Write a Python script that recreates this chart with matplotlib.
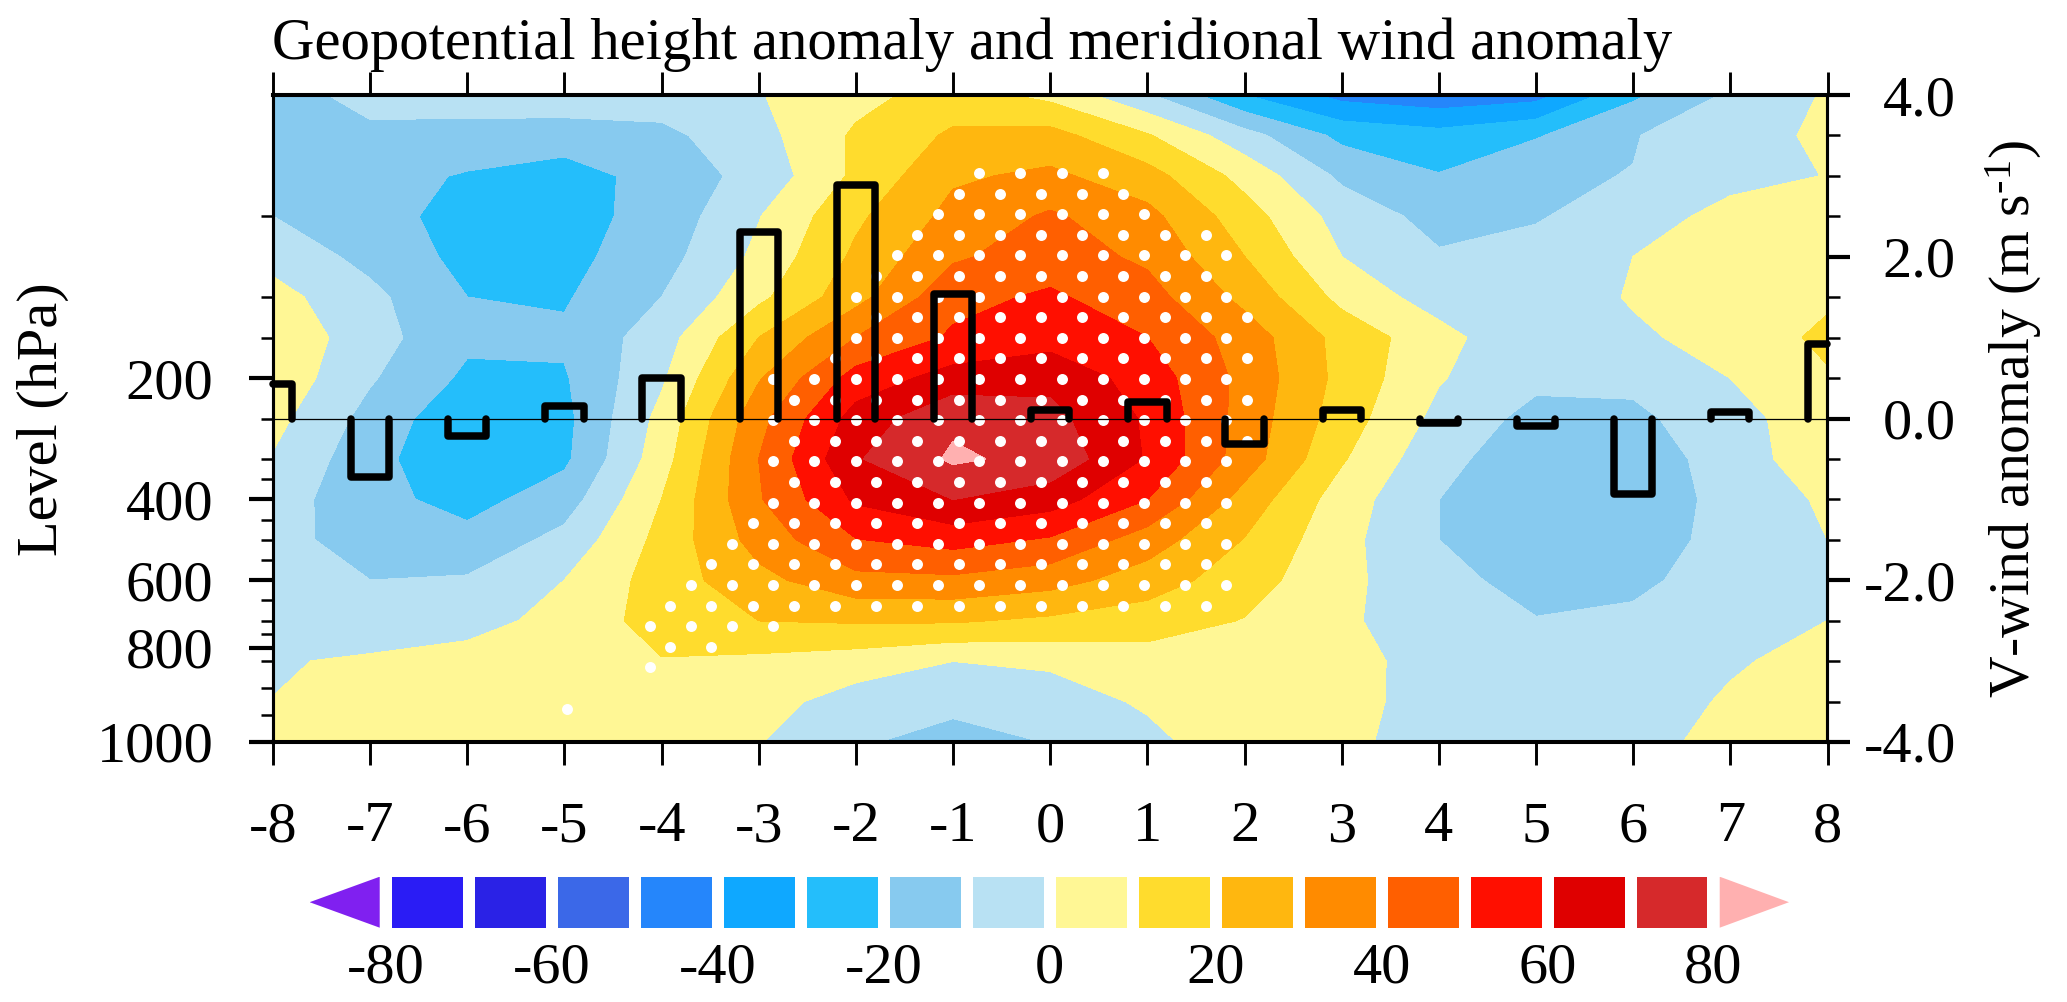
import numpy as np
import matplotlib
matplotlib.use("Agg")
import matplotlib.pyplot as plt
from matplotlib.colors import ListedColormap, BoundaryNorm

plt.rcParams['font.family'] = ['Liberation Serif', 'DejaVu Serif']
plt.rcParams['mathtext.fontset'] = 'custom'
plt.rcParams['mathtext.rm'] = 'Liberation Serif'
plt.rcParams['mathtext.default'] = 'regular'
plt.rcParams['axes.unicode_minus'] = False

# ---------- data ----------
lags = list(range(-8, 9))
plev = [1000, 925, 850, 700, 600, 500, 400, 300, 250, 200, 150, 100, 70, 50, 30, 20, 10]

z_10   = [-14, -7, -6, -5, -5, -0.5, 6.7, 14.5, 7, -9, -30, -43.5, -47.2, -44, -22, -8.5, 1]
z_20   = [-14, -12, -13, -14, -12.5, -3.6, 11.5, 21.5, 23.4, 10.8, -6.3, -22.7, -26.5, -21, -10.5, -4.4, 2]
z_30   = [-13, -16, -21, -25.5, -15.3, -7, 12, 28.5, 32, 23.8, 6.5, -12, -19.5, -11, -9.8, -2.5, 0.2]
z_50   = [-10, -16, -24, -23.7, -16.5, -0.5, 18, 33, 41.4, 33, 14.4, -4, -13.5, -11, -3.75, 2.5, 3]
z_70   = [-3.5, -13, -23, -23, -14, 2.3, 22, 38.5, 45, 38, 20, 0, -9, -6, 0, 4, 5]
z_100  = [3.5, -7.5, -20, -21, -10, 7.5, 26.5, 47, 51.5, 44, 27, 7, -4.7, -7.3, 1, 5.5, 8.5]
z_150  = [8, -6, -18, -18.4, -4.7, 20, 40, 51.4, 56, 50, 35.5, 16.5, 3.5, -8.8, -2, 4.3, 12]
z_200  = [7, -9, -22, -21, -1.6, 29, 54, 64, 67, 55.5, 37, 17, 0.7, -7.6, -7, 0, 9]
z_250  = [3, -13.5, -28, -22.8, 3, 36.7, 64, 78, 73, 58.5, 36, 15, -3, -13.3, -12.8, -2.5, 4]
z_300  = [-0.8, -16.5, -29, -22, 5.5, 40, 69, 81.5, 77, 59, 35, 11, -7.3, -15.7, -16.7, -4.9, 6]
z_400  = [-5, -17, -23.5, -15, 10, 39, 61.5, 70, 64.5, 50, 26, 5, -10, -17, -18, -6, 1.4]
z_500  = [-7, -14, -17, -7, 13, 34, 49.5, 53.7, 48.75, 35, 19.5, 3, -10, -17, -16, -6, 0]
z_600  = [-7, -10, -9, 0, 14.5, 27, 37, 37.7, 33.8, 25, 14.5, 2.5, -7, -13.6, -12.4, -5, -2.5]
z_700  = [-5.5, -5, -4, 3.5, 14, 20, 21, 21, 18, 14.8, 9.5, 1.5, -5.4, -9.6, -7.9, -3.5, 0]
z_850  = [-0.7, 1.1, 4, 7, 9.5, 7.6, 5, 0, 2, 5.5, 5, 2.5, -3, -7, -6, -1.4, 4]
z_925  = [0.1, 4, 6.5, 7, 7.5, 3.8, -4.5, -6.5, -6, 1.7, 4.5, 2, -2.5, -5, -6, 1.4, 5]
z_1000 = [5, 5.5, 8, 7, 7, 0.4, -8.5, -15, -9.6, -3.5, 8, 1.5, -3, -5, -3, 2.8, 5]

v_wind = [0.43, -0.72, -0.22, 0.15, 0.5, 2.31, 2.89, 1.54, 0.1, 0.21, -0.32, 0.1, -0.06, -0.09, -0.93, 0.08, 0.92]

levels = list(range(-80, 90, 10))
colors = ['#8020F0', '#2A1CF5', '#2A22E6', '#3B68E8', '#2586FB', '#0FA8FF', '#24BEFB', '#87CAEF', '#B8E1F3',
          '#FFF795', '#FFDC2D', '#FFB70F', '#FF8B00', '#FF5F00', '#FF0F00', '#DF0000', '#D6292B', '#FFB0B0']
cb_labels = ['-80', '-60', '-40', '-20', '0', '20', '40', '60', '80']
cb_ticks = [-80, -60, -40, -20, 0, 20, 40, 60, 80]

x_labels = ['-8', '-7', '-6', '-5', '-4', '-3', '-2', '-1', '0', '1', '2', '3', '4', '5', '6', '7', '8']
p_major = [200, 400, 600, 800, 1000]
p_minor = [50, 100, 150, 250, 300, 350, 450, 500, 550, 650, 700, 750, 850, 900, 950]
v_major = [-4, -2, 0, 2, 4]
v_major_labels = ['-4.0', '-2.0', '0.0', '2.0', '4.0']
v_minor = [-3.5, -3, -2.5, -1.5, -1, -0.5, 0.5, 1, 1.5, 2.5, 3, 3.5]

# stippling: staggered sampling grid, first/last column index per row
stip_start = [0, -1, -2, -3, -4, -5, -6, -5, -6, -7, -10, -9, -10, -9, -10, -9, -10, -11, -12, -13, -14, -15, -16, -15, -16, 1, -20]
stip_end   = [6, 7, 8, 11, 12, 11, 12, 13, 12, 13, 12, 13, 12, 13, 12, 11, 12, 11, 12, 11, 12, 11, -10, -13, -16, 0, -20]
stip_lag0, stip_dlag = -0.731, 0.212
stip_v0, stip_dv = 3.036, 0.2547

# ---------- figure ----------
W, H = 2067, 1002
fig = plt.figure(figsize=(W / 100, H / 100), dpi=100)
L, R, T, B = 273, 1827.5, 95, 742
ax = fig.add_axes([L / W, 1 - B / H, (R - L) / W, (B - T) / H])

Z = np.array([z_1000, z_925, z_850, z_700, z_600, z_500, z_400, z_300, z_250, z_200,
              z_150, z_100, z_70, z_50, z_30, z_20, z_10])
idx = np.arange(len(plev))
def p2i(p):
    return np.interp(p, plev[::-1], idx[::-1])

cmap = ListedColormap(colors[1:-1])
cmap.set_under(colors[0]); cmap.set_over(colors[-1])
cs = ax.contourf(lags, idx, Z, levels=levels, cmap=cmap, norm=BoundaryNorm(levels, 16), extend='both')
cs.set_edgecolor('face'); cs.set_linewidth(0.4)
ax.set_xlim(-8, 8); ax.set_ylim(0, 16)

fs = 42
ax.set_xticks(lags, x_labels, fontsize=fs)
ax.tick_params(axis='x', which='major', direction='out', length=16.5, width=2.1, top=True, pad=26)
ax.set_yticks(p2i(p_major), [str(p) for p in p_major], fontsize=fs)
ax.set_yticks(p2i(p_minor), minor=True)
ax.tick_params(axis='y', which='major', direction='out', length=17, width=3, pad=26)
ax.tick_params(axis='y', which='minor', direction='out', length=9, width=1.8)

ax2 = ax.twinx()
ax2.set_ylim(-4, 4)
ax2.set_yticks(v_major, v_major_labels, fontsize=fs, ha='right')
ax2.set_yticks(v_minor, minor=True)
ax2.tick_params(axis='y', which='major', direction='out', length=16.5, width=3, pad=76)
ax2.tick_params(axis='y', which='minor', direction='out', length=9, width=1.8)

sx, sy = [], []
for k, (a, b) in enumerate(zip(stip_start, stip_end)):
    for c in range(a, b + 1, 2):
        sx.append(stip_lag0 + c * stip_dlag)
        sy.append(stip_v0 - k * stip_dv)
ax2.plot(sx, sy, 'o', color='white', ms=7.9, mew=0, zorder=2)

ax2.axhline(0, color='black', lw=0.9, zorder=3)
half = 0.197
for lag, v in zip(lags, v_wind):
    x0 = max(lag - half, -8); x1 = min(lag + half, 8)
    xs = [x0, x0, x1, x1]; ys = [0, v, v, 0]
    if lag == -8:
        xs, ys = xs[1:], ys[1:]
    if lag == 8:
        xs, ys = xs[:-1], ys[:-1]
    ax2.plot(xs, ys, color='black', lw=5.4, solid_capstyle='round', solid_joinstyle='round',
             clip_on=False, zorder=4)

for a in (ax, ax2):
    a.spines['top'].set_linewidth(2.9); a.spines['bottom'].set_linewidth(2.9)
    a.spines['left'].set_linewidth(2.2); a.spines['right'].set_linewidth(2.2)

ax.set_title('Geopotential height anomaly and meridional wind anomaly', loc='left', y=1.0, pad=26,
             fontsize=42.3, x=-0.0005)
fig.text(43 / W, 1 - 419 / H, 'Level (hPa)', rotation=90, ha='center', va='center', fontsize=fs)
fig.text(2014 / W, 1 - 419 / H, r'V-wind anomaly (m s$^{\text{-}1}$)', rotation=90, ha='center', va='center', fontsize=41.5)

# colour bar
cb_l, cb_r = 309.6, 1789
axc = fig.add_axes([cb_l / W, 1 - 927.7 / H, (cb_r - cb_l) / W, (927.7 - 876.7) / H])
axc.set_xlim(-89.2, 89.1); axc.set_ylim(0, 1)
lv = np.array(levels[:-1])
axc.bar(lv + 5, 1, width=8.55, bottom=0, color=colors[1:-1], linewidth=0)
axc.fill([-80.75, -80.75, -89.2], [0, 1, 0.5], color=colors[0], lw=0)
axc.fill([80.75, 80.75, 89.1], [0, 1, 0.5], color=colors[-1], lw=0)
for s in axc.spines.values():
    s.set_visible(False)
axc.set_yticks([])
axc.set_xticks(cb_ticks, cb_labels, fontsize=fs)
axc.tick_params(axis='x', length=0, pad=11)

fig.savefig('out.png', dpi=100)
